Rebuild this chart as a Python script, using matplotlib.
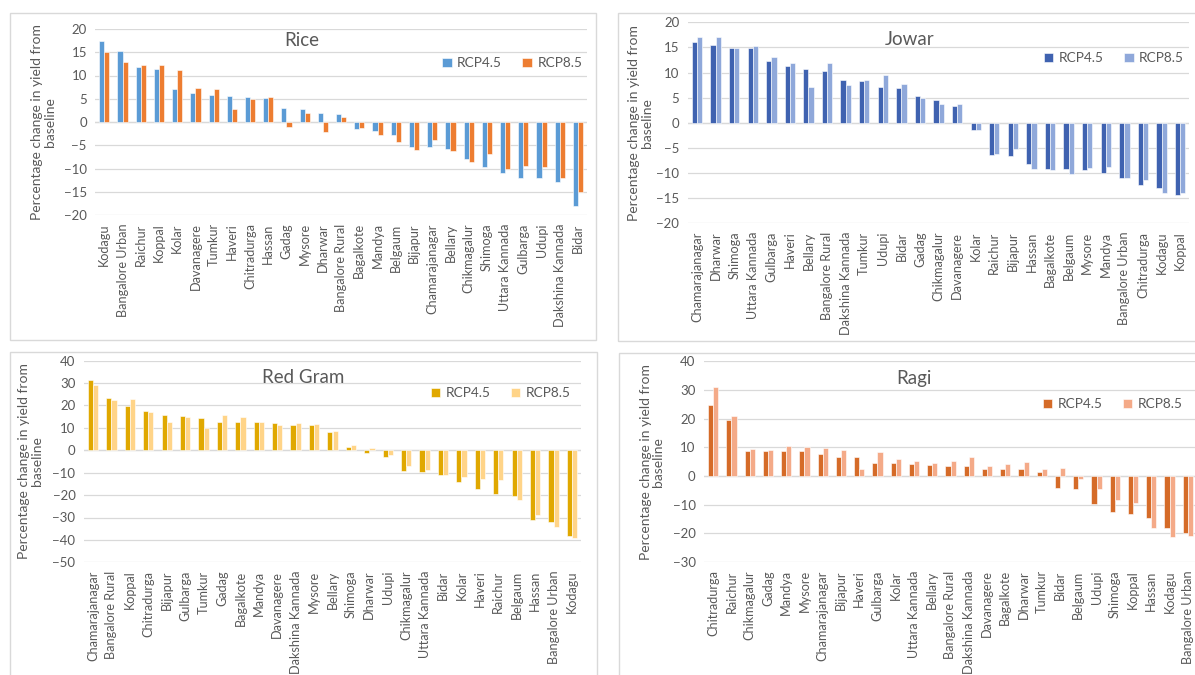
import matplotlib.pyplot as plt
from matplotlib.patches import Rectangle
import numpy as np

plt.rcParams['font.family'] = ['Lato', 'DejaVu Sans']

# percentage change in yield from baseline, per district
rice_districts = ['Kodagu', 'Bangalore Urban', 'Raichur', 'Koppal', 'Kolar', 'Davanagere',
                  'Tumkur', 'Haveri', 'Chitradurga', 'Hassan', 'Gadag', 'Mysore', 'Dharwar',
                  'Bangalore Rural', 'Bagalkote', 'Mandya', 'Belgaum', 'Bijapur',
                  'Chamarajanagar', 'Bellary', 'Chikmagalur', 'Shimoga', 'Uttara Kannada',
                  'Gulbarga', 'Udupi', 'Dakshina Kannada', 'Bidar']
rice_rcp45 = [17.5, 15.3, 11.9, 11.4, 7.0, 6.2, 5.8, 5.6, 5.4, 5.1, 3.1, 2.7, 1.9,
              1.7, -1.4, -1.9, -2.9, -5.3, -5.3, -5.9, -8.0, -9.6, -11.0,
              -12.1, -12.1, -13.0, -18.0]
rice_rcp85 = [15.0, 13.0, 12.3, 12.2, 11.1, 7.4, 7.2, 2.9, 5.0, 5.4, -1.0, 1.9, -2.1,
              1.1, -1.3, -2.9, -4.2, -6.1, -3.9, -6.2, -8.6, -6.9, -10.0,
              -9.4, -9.6, -12.1, -15.1]

jowar_districts = ['Chamarajanagar', 'Dharwar', 'Shimoga', 'Uttara Kannada', 'Gulbarga',
                   'Haveri', 'Bellary', 'Bangalore Rural', 'Dakshina Kannada', 'Tumkur',
                   'Udupi', 'Bidar', 'Gadag', 'Chikmagalur', 'Davanagere', 'Kolar',
                   'Raichur', 'Bijapur', 'Hassan', 'Bagalkote', 'Belgaum', 'Mysore',
                   'Mandya', 'Bangalore Urban', 'Chitradurga', 'Kodagu', 'Koppal']
jowar_rcp45 = [16.0, 15.4, 14.9, 14.9, 12.3, 11.4, 10.7, 10.3, 8.6, 8.4, 7.2, 6.9,
               5.4, 4.6, 3.4, -1.5, -6.5, -6.6, -8.2, -9.1, -9.1, -9.4, -10.0,
               -10.9, -12.3, -13.0, -14.3]
jowar_rcp85 = [17.1, 17.1, 14.9, 15.2, 13.0, 12.0, 7.2, 12.0, 7.5, 8.6, 9.6, 7.8,
               4.9, 3.8, 3.7, -1.5, -6.2, -5.3, -9.1, -9.3, -10.1, -8.9, -8.8,
               -11.0, -11.3, -14.0, -13.9]

redgram_districts = ['Chamarajanagar', 'Bangalore Rural', 'Koppal', 'Chitradurga', 'Bijapur',
                     'Gulbarga', 'Tumkur', 'Gadag', 'Bagalkote', 'Mandya', 'Davanagere',
                     'Dakshina Kannada', 'Mysore', 'Bellary', 'Shimoga', 'Dharwar', 'Udupi',
                     'Chikmagalur', 'Uttara Kannada', 'Bidar', 'Kolar', 'Haveri', 'Raichur',
                     'Belgaum', 'Hassan', 'Bangalore Urban', 'Kodagu']
redgram_rcp45 = [31.4, 23.2, 19.9, 17.4, 15.8, 15.3, 14.4, 12.8, 12.8, 12.5, 12.2,
                 11.4, 11.2, 8.2, 1.6, -1.3, -2.8, -9.2, -9.8, -11.0, -14.0, -17.2,
                 -19.6, -20.5, -31.1, -32.0, -38.2]
redgram_rcp85 = [29.1, 22.3, 22.9, 17.1, 12.5, 14.7, 10.1, 15.8, 14.7, 12.6, 11.2,
                 12.2, 11.7, 8.6, 2.4, 1.0, -2.1, -6.8, -8.8, -11.2, -12.0, -12.6,
                 -13.1, -22.2, -29.1, -34.2, -39.1]

ragi_districts = ['Chitradurga', 'Raichur', 'Chikmagalur', 'Gadag', 'Mandya', 'Mysore',
                  'Chamarajanagar', 'Bijapur', 'Haveri', 'Gulbarga', 'Kolar',
                  'Uttara Kannada', 'Bellary', 'Bangalore Rural', 'Dakshina Kannada',
                  'Davanagere', 'Bagalkote', 'Dharwar', 'Tumkur', 'Bidar', 'Belgaum',
                  'Udupi', 'Shimoga', 'Koppal', 'Hassan', 'Kodagu', 'Bangalore Urban']
ragi_rcp45 = [24.8, 19.7, 8.7, 8.7, 8.7, 8.7, 7.7, 6.6, 6.6, 4.7, 4.7, 4.2, 3.8, 3.6,
              3.4, 2.3, 2.3, 2.3, 1.3, -4.3, -4.5, -9.9, -12.4, -13.4, -14.8, -18.3, -20.0]
ragi_rcp85 = [30.9, 20.9, 9.3, 9.1, 10.3, 10.0, 9.8, 9.1, 2.3, 8.3, 5.9, 5.1, 4.5, 5.1,
              6.6, 3.4, 4.1, 5.0, 2.3, 2.7, -1.2, -4.5, -8.4, -9.5, -18.0, -21.2, -20.8]

W, H = 1195, 675
fig = plt.figure(figsize=(W / 100, H / 100), dpi=100)

grey_text = '#595959'
grid_col = '#D9D9D9'

# outer chart frames (x0, y0, x1, y1 in pixels from top-left)
frames = [(9.5, 13, 596, 340), (618, 13, 1205, 341),
          (9.5, 352, 597, 685), (619, 353, 1205, 685)]
for x0, y0, x1, y1 in frames:
    fig.patches.append(Rectangle((x0 / W, 1 - y1 / H), (x1 - x0) / W, (y1 - y0) / H,
                                 transform=fig.transFigure, fill=False,
                                 edgecolor=grid_col, linewidth=1.0))

panels = [
    dict(title='Rice', cats=rice_districts, a=rice_rcp45, b=rice_rcp85,
         colors=('#5B9BD5', '#ED7D31'), box=(95.2, 587.1, 29, 215), ylim=(-20, 20), step=5,
         title_xy=(0.42, 0.94), leg_xy=(0.99, 0.816), ylab_x=-0.105),
    dict(title='Jowar', cats=jowar_districts, a=jowar_rcp45, b=jowar_rcp85,
         colors=('#3F62B0', '#8FA8DA'), box=(687.7, 1189.4, 22.3, 223.3), ylim=(-20, 20), step=5,
         title_xy=(0.443, 0.912), leg_xy=(0.989, 0.822), ylab_x=-0.094),
    dict(title='Red Gram', cats=redgram_districts, a=redgram_rcp45, b=redgram_rcp85,
         colors=('#E0A800', '#FFD488'), box=(83.8, 581.2, 360.7, 562.3), ylim=(-50, 40), step=10,
         title_xy=(0.442, 0.919), leg_xy=(0.979, 0.838), ylab_x=-0.107),
    dict(title='Ragi', cats=ragi_districts, a=ragi_rcp45, b=ragi_rcp85,
         colors=('#D56B28', '#F4AA88'), box=(704, 1197, 361.3, 562), ylim=(-30, 40), step=10,
         title_xy=(0.426, 0.912), leg_xy=(0.971, 0.787), ylab_x=-0.105),
]

bw = 0.28
for p in panels:
    x0, x1, yt, yb = p['box']
    ax = fig.add_axes([x0 / W, 1 - yb / H, (x1 - x0) / W, (yb - yt) / H])
    x = np.arange(len(p['cats']))
    ax.bar(x - bw / 2, p['a'], bw, color=p['colors'][0], edgecolor='white',
           linewidth=0.4, label='RCP4.5', zorder=3)
    ax.bar(x + bw / 2, p['b'], bw, color=p['colors'][1], edgecolor='white',
           linewidth=0.4, label='RCP8.5', zorder=3)
    lo, hi = p['ylim']
    ax.set_ylim(lo, hi)
    ax.set_xlim(-0.5, len(p['cats']) - 0.5)
    ax.set_yticks(np.arange(lo, hi + 1, p['step']))
    ax.yaxis.grid(True, color=grid_col, linewidth=0.9, zorder=0)
    ax.axhline(0, color=grid_col, linewidth=0.9, zorder=1)
    for s in ax.spines.values():
        s.set_visible(False)
    ax.set_xticks(x)
    ax.set_xticklabels(p['cats'], rotation=90, fontsize=9.1, color=grey_text)
    ax.tick_params(axis='x', length=0, pad=6)
    ax.tick_params(axis='y', length=0, pad=6, labelsize=9.5, labelcolor=grey_text)
    ax.set_ylabel('Percentage change in yield from\nbaseline', fontsize=10,
                  color=grey_text, linespacing=1.05)
    ax.yaxis.set_label_coords(p['ylab_x'], 0.5)
    ax.yaxis.label.set_va('center')
    ax.text(p['title_xy'][0], p['title_xy'][1], p['title'], transform=ax.transAxes,
            ha='center', va='center', fontsize=13.5, color=grey_text)
    ax.legend(loc='center right', bbox_to_anchor=p['leg_xy'], ncol=2, frameon=False,
              fontsize=9.8, labelcolor=grey_text, handlelength=0.7, handleheight=0.7,
              handletextpad=0.4, columnspacing=1.5, borderpad=0, borderaxespad=0)
    ax.set_facecolor('none')

fig.savefig('out.png', dpi=100, facecolor='white')
